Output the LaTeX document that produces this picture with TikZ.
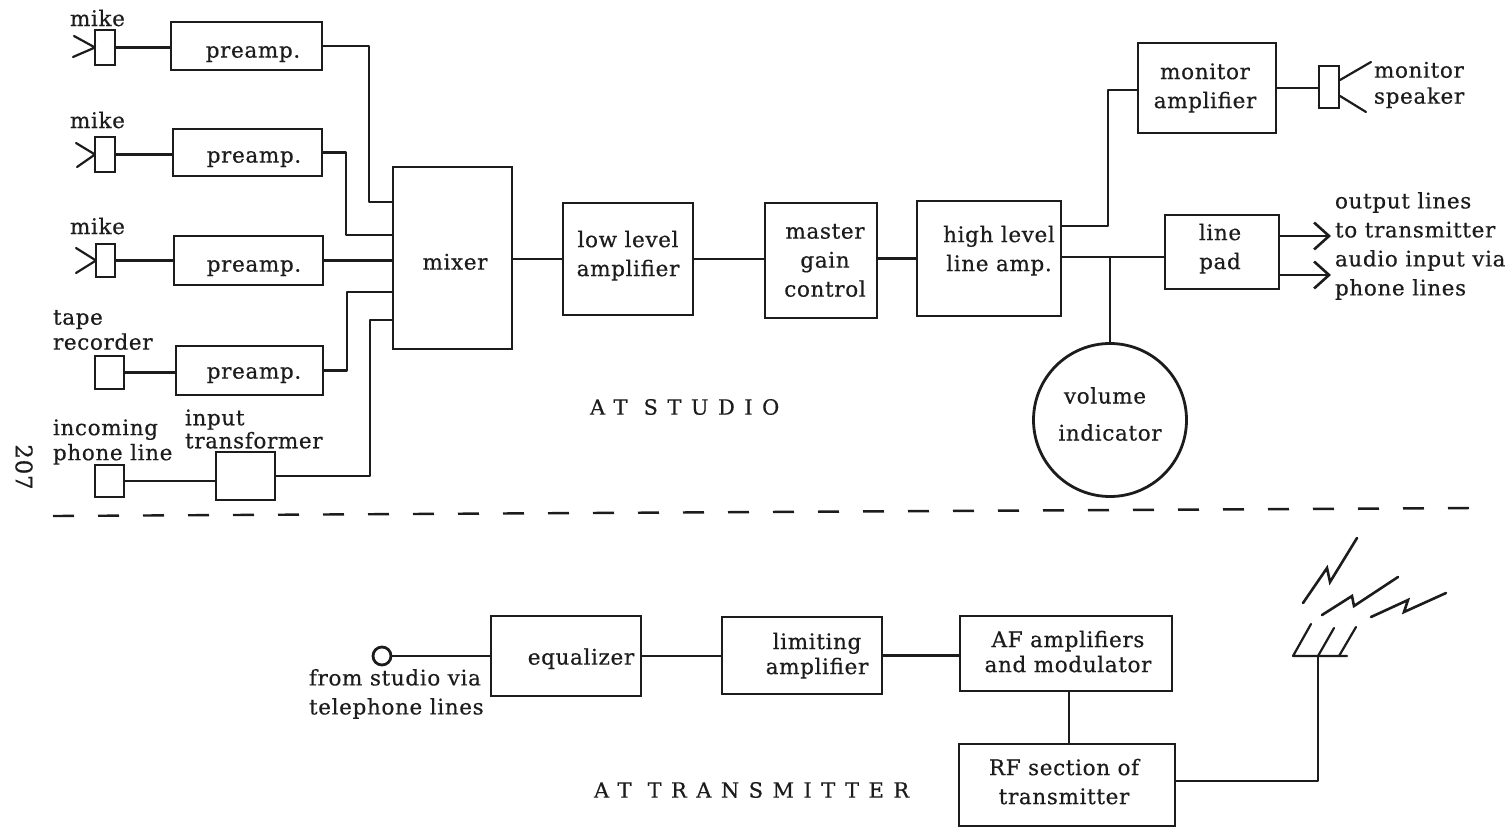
\documentclass[tikz,border=0pt]{standalone}
\usepackage{fontspec}
\setmainfont{DejaVu Serif}[LetterSpace=3,FakeBold=0.45]
\newfontfamily\spaced[LetterSpace=45,FakeBold=0.45]{DejaVu Serif}
\usetikzlibrary{arrows.meta,calc}
\definecolor{ink}{HTML}{1C1C1C}
\tikzset{
  wire/.style={draw=ink,line width=2.4pt,line join=round},
  thin wire/.style={draw=ink,line width=2.2pt,line cap=round,line join=round},
  box/.style={draw=ink,line width=2.5pt,inner sep=0pt,outer sep=0pt,text=ink},
  lab/.style={inner sep=0pt,outer sep=0pt,text=ink,align=left,anchor=west},
  barb/.style={-{Straight Barb[length=15pt,width=27pt,line width=2.6pt]},line width=2.8pt,draw=ink},
  bolt/.style={draw=ink,line width=2.6pt,line cap=round,line join=miter},
}
\newcommand\bx[9][]{%
  \node[box,minimum width={(#4)-(#2)},minimum height={(#5)-(#3)},#1] (#6) at ({((#2)+(#4))/2},{((#3)+(#5))/2})
  {\raisebox{\dimexpr(#3pt+#5pt)/2-#8pt-5pt\relax}[0pt][0pt]{\makebox[0pt]{\kern\dimexpr #7pt*2-#2pt-#4pt\relax\fontsize{21.5}{29}\selectfont\begin{tabular}{@{}c@{}}#9\end{tabular}}}};}
\newcommand\lb[5]{\node[lab,font=\fontsize{21.5}{#4}\selectfont] (#1) at (#2,#3) {#5};}
\begin{document}
\begin{tikzpicture}[x=1pt,y=-1pt]
\useasboundingbox (0,0) rectangle (1506,829);
\fill[white] (0,0) rectangle (1506,829);
% ---- studio: sources
\bx{95}{30}{115}{65}{m1}{105}{47}{}
\bx{95}{137}{115}{172}{m2}{105}{155}{}
\bx{96}{244}{115}{277}{m3}{105}{261}{}
\bx{95}{356}{124}{389}{tape}{110}{372}{}
\bx{95}{465}{124}{497}{line}{110}{481}{}
\bx{171}{22}{322}{70}{p1}{253}{52}{preamp.}
\bx{173}{129}{322}{176}{p2}{254}{157}{preamp.}
\bx{174}{236}{323}{285}{p3}{254}{266}{preamp.}
\bx{176}{346}{323}{395}{p4}{254}{373}{preamp.}
\bx{216}{452}{275}{500}{xf}{245}{476}{}
\bx{393}{167}{512}{349}{mix}{455}{264}{mixer}
\bx{563}{203}{693}{315}{low}{628}{256}{low level\\amplifier}
\bx{765}{203}{877}{318}{gain}{825}{262}{master\\gain\\control}
\bx{917}{201}{1061}{316}{high}{999}{251}{high level\\line amp.}
\bx{1138}{43}{1276}{133}{mon}{1205}{88}{monitor\\amplifier}
\bx{1319}{66}{1339}{108}{spk}{1329}{87}{}
\bx{1165}{215}{1279}{289}{pad}{1220}{249}{line\\pad}
\node[draw=ink,line width=2.8pt,circle,minimum size=153pt,inner sep=0pt,outer sep=0pt] (vu) at (1110,420) {};
\node[lab,anchor=center,align=center,font=\fontsize{21.5}{37}\selectfont] (vut) at (1105,414) {volume\\\hspace*{10pt}indicator};
% ---- horns
\draw[thin wire] (74,36) -- (m1.west) -- (73,57);
\draw[thin wire] (76,143) -- (m2.west) -- (77,167);
\draw[thin wire] (76,248) -- (m3.west) -- (76,273);
\draw[thin wire] (1340,80) -- (1371,62) (1340,96) -- (1366,112);
% ---- wires
\draw[wire] (m1.east) -- (p1.west |- m1.east);
\draw[wire] (m2.east) -- (p2.west |- m2.east);
\draw[wire] (m3.east) -- (p3.west |- m3.east);
\draw[wire] (tape.east) -- (p4.west |- tape.east);
\draw[wire] (line.east) -- (xf.west |- line.east);
\draw[wire] (p1.east) -- ++(47,0) |- (mix.west |- 0,202);
\draw[wire] (p2.east) -- ++(24,0) |- (mix.west |- 0,235);
\draw[wire] (p3.east) -- (mix.west |- p3.east);
\draw[wire] (p4.east) -- ++(24,0) |- (mix.west |- 0,292);
\draw[wire] (xf.east) -- ++(95,0) |- (mix.west |- 0,320);
\draw[wire] (mix.east |- low.west) -- (low.west);
\draw[wire] (low.east) -- (gain.west |- low.east);
\draw[wire] (gain.east |- high.west) -- (high.west);
\coordinate (tap) at (1110,257);
\draw[wire] (high.east |- tap) -- (pad.west |- tap);
\draw[wire] (tap) -- (vu.north);
\draw[wire] (high.east |- 0,226) -| (1108,90) -- (mon.west |- 0,90);
\draw[wire] (mon.east) -- (spk.west |- mon.east);
\coordinate (o1) at (1331,236);
\coordinate (o2) at (1331,275);
\draw[barb] (pad.east |- o1) -- (o1);
\draw[barb] (pad.east |- o2) -- (o2);
% ---- labels (studio)
\lb{l1}{70}{18}{25}{mike}
\lb{l2}{70}{120}{25}{mike}
\lb{l3}{70}{226}{25}{mike}
\lb{l4}{53}{330}{25}{tape\\recorder}
\lb{l5}{53}{442}{25}{incoming\\phone line}
\lb{l6}{185}{429}{23}{input\\transformer}
\lb{l7}{1374}{85}{26}{monitor\\speaker}
\lb{l8}{1335}{246}{29}{output lines\\to transmitter\\audio input via\\phone lines}
\node[lab,anchor=west] (st) at (590,407) {\fontsize{21}{25}\spaced AT STUDIO};
\node[lab,anchor=center,rotate=-90,font=\fontsize{23}{27}\selectfont] (pg) at (24,467) {207};
% ---- divider
\coordinate (d1) at (53,516);
\coordinate (d2) at (1476,508);
\draw[draw=ink,line width=2.4pt,dash pattern=on 21pt off 24pt] (d1) -- (d2);
% ---- transmitter
\node[draw=ink,line width=2.8pt,circle,minimum size=18pt,inner sep=0pt,outer sep=0pt] (src) at (382,656) {};
\bx{491}{616}{641}{696}{eq}{581}{659}{equalizer}
\bx{722}{617}{882}{694}{lim}{817}{656}{limiting\\[-4pt]amplifier}
\bx{960}{616}{1172}{691}{af}{1068}{654}{AF amplifiers\\[-4pt]and modulator}
\bx{959}{744}{1175}{826}{rf}{1064}{784}{RF section of\\transmitter}
\draw[wire] (src.east) -- (eq.west |- src.east);
\draw[wire] (eq.east) -- (lim.west |- eq.east);
\draw[wire] (lim.east) -- (af.west |- lim.east);
\draw[wire] (af.south -| 1069,0) -- (rf.north -| 1069,0);
\coordinate (ant) at (1318,656);
\draw[wire] (rf.east |- 0,781) -| (ant);
\draw[thin wire] (1311,624) -- (1293,656) -- (1347,656);
\draw[thin wire] (1334,628) -- (ant);
\draw[thin wire] (1356,627) -- (1339,656);
\draw[bolt] (1303,603) -- (1327,568) -- (1330,582) -- (1357,538);
\draw[bolt] (1322,615) -- (1352,596) -- (1354,606) -- (1398,577);
\draw[bolt] (1371,617) -- (1408,600) -- (1404,612) -- (1446,593);
\lb{l9}{309}{694}{29}{from studio via\\telephone lines}
\node[lab,anchor=west] (tr) at (594,790) {\fontsize{21}{25}\spaced AT TRANSMITTER};
\end{tikzpicture}
\end{document}
